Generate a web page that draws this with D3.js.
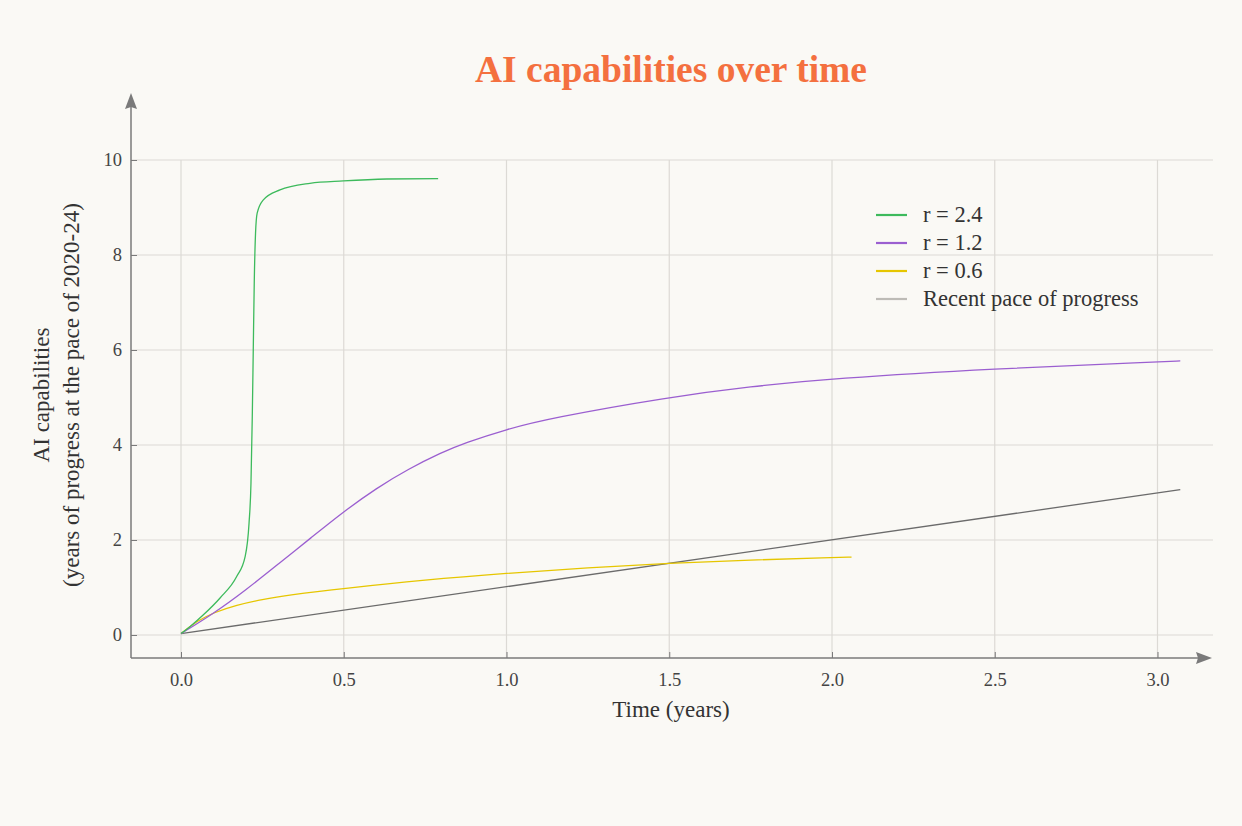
<!DOCTYPE html>
<html>
<head>
<meta charset="utf-8">
<script src="https://cdn.jsdelivr.net/npm/d3@7"></script>
<style>
  html, body { margin: 0; padding: 0; background: #faf9f5; }
  svg { display: block; font-family: "Liberation Serif", "DejaVu Serif", serif; }
</style>
</head>
<body>
<div id="chart"></div>
<script>
// AI capabilities over time

const xTicks = [0.0, 0.5, 1.0, 1.5, 2.0, 2.5, 3.0];
const yTicks = [0, 2, 4, 6, 8, 10];

// r = 2.4
const greenT = [0, 0.03, 0.068, 0.12, 0.171, 0.197, 0.209, 0.215, 0.219, 0.222, 0.225, 0.229, 0.234, 0.253, 0.304, 0.396, 0.499, 0.632, 0.79];
const greenV = [0.03, 0.19, 0.42, 0.78, 1.23, 1.65, 2.35, 3.2, 4.6, 6.0, 7.4, 8.46, 8.88, 9.16, 9.37, 9.51, 9.56, 9.6, 9.61];

// r = 1.2
const purpleT = [0, 0.1, 0.2, 0.3, 0.4, 0.5, 0.6, 0.7, 0.8, 0.87, 1.0, 1.13, 1.5, 1.75, 2.0, 2.5, 3.0, 3.07];
const purpleV = [0.03, 0.45, 0.95, 1.5, 2.05, 2.6, 3.09, 3.5, 3.84, 4.04, 4.33, 4.56, 5.01, 5.23, 5.4, 5.61, 5.75, 5.77];

// r = 0.6
const yellowT = [0, 0.05, 0.1, 0.17, 0.25, 0.33, 0.5, 0.75, 1.0, 1.25, 1.5, 1.75, 2.0, 2.06];
const yellowV = [0.03, 0.3, 0.47, 0.63, 0.75, 0.84, 0.98, 1.16, 1.3, 1.42, 1.51, 1.58, 1.63, 1.64];

// recent pace
const grayT = [0, 3.07];
const grayV = [0.03, 3.06];

const seriesNames = ['r = 2.4', 'r = 1.2', 'r = 0.6', 'Recent pace of progress'];
const lineColors = ['#3dba5c', '#9b5fd0', '#e6c600', '#6b6b6b'];
const legendColors = ['#3dba5c', '#9b5fd0', '#e6c600', '#bdbbb6'];

const W = 1242, H = 826;
const svg = d3.select('#chart').append('svg').attr('width', W).attr('height', H);

// scales: 0 -> 181px, 3 -> 1157px ; 0 -> 635px, 10 -> 160px
const x = d3.scaleLinear().domain([0, 3]).range([181, 1157.5]);
const y = d3.scaleLinear().domain([0, 10]).range([635, 160]);

const plotLeft = 131, plotRight = 1213, plotBottom = 658, plotTop = 160;
const axisColor = '#7a7a7a';
const gridColor = '#dcdad5';
const tickFont = '18.5px';

// grid
svg.append('g')
  .selectAll('line')
  .data(yTicks)
  .join('line')
  .attr('x1', plotLeft).attr('x2', plotRight)
  .attr('y1', d => y(d)).attr('y2', d => y(d))
  .attr('stroke', gridColor).attr('stroke-width', 1.2);

svg.append('g')
  .selectAll('line')
  .data(xTicks)
  .join('line')
  .attr('x1', d => x(d)).attr('x2', d => x(d))
  .attr('y1', plotTop).attr('y2', plotBottom)
  .attr('stroke', gridColor).attr('stroke-width', 1.2);

// axes
const xAxis = d3.axisBottom(x).tickValues(xTicks).tickFormat(d3.format('.1f')).tickSize(-6).tickPadding(15);
const xg = svg.append('g').attr('transform', `translate(0,${plotBottom})`).call(xAxis);
xg.select('.domain').remove();
xg.selectAll('line').attr('stroke', axisColor);
xg.selectAll('text').attr('fill', '#444').style('font-size', tickFont).style('font-family', '"Liberation Serif", serif');

const yAxis = d3.axisLeft(y).tickValues(yTicks).tickSize(-6).tickPadding(9);
const yg = svg.append('g').attr('transform', `translate(${plotLeft},0)`).call(yAxis);
yg.select('.domain').remove();
yg.selectAll('line').attr('stroke', axisColor);
yg.selectAll('text').attr('fill', '#444').style('font-size', tickFont).style('font-family', '"Liberation Serif", serif');

// axis lines with arrows
svg.append('line').attr('x1', plotLeft).attr('x2', 1200).attr('y1', plotBottom).attr('y2', plotBottom)
  .attr('stroke', axisColor).attr('stroke-width', 1.5);
svg.append('path').attr('d', `M1212,${plotBottom} L1196,${plotBottom - 6} L1198,${plotBottom} L1196,${plotBottom + 6} Z`).attr('fill', axisColor);
svg.append('line').attr('x1', plotLeft).attr('x2', plotLeft).attr('y1', plotBottom).attr('y2', 105)
  .attr('stroke', axisColor).attr('stroke-width', 1.5);
svg.append('path').attr('d', `M${plotLeft},93 L${plotLeft - 6},109 L${plotLeft},107 L${plotLeft + 6},109 Z`).attr('fill', axisColor);

// lines: steep green curve keeps monotone, smoother ones use a basis spline
const curves = [d3.curveMonotoneX, d3.curveBasis, d3.curveBasis, d3.curveLinear];
const allSeries = [
  d3.zip(greenT, greenV),
  d3.zip(purpleT, purpleV),
  d3.zip(yellowT, yellowV),
  d3.zip(grayT, grayV)
];
// draw gray first so it sits below
[3, 2, 1, 0].forEach(i => {
  const line = d3.line().x(d => x(d[0])).y(d => y(d[1])).curve(curves[i]);
  svg.append('path')
    .datum(allSeries[i])
    .attr('d', line)
    .attr('fill', 'none')
    .attr('stroke', lineColors[i])
    .attr('stroke-width', 1.3);
});

// legend
const legend = svg.append('g').attr('transform', 'translate(876,215)');
seriesNames.forEach((name, i) => {
  const g = legend.append('g').attr('transform', `translate(0,${i * 28})`);
  g.append('line').attr('x1', 0).attr('x2', 31).attr('y1', 0).attr('y2', 0)
    .attr('stroke', legendColors[i]).attr('stroke-width', 2.2);
  g.append('text').attr('x', 47).attr('y', 7)
    .attr('fill', '#333').style('font-size', '22.5px').text(name);
});

// title
svg.append('text').attr('x', 671).attr('y', 82).attr('text-anchor', 'middle')
  .attr('fill', '#f4703f').style('font-size', '37.5px').style('font-weight', 'bold')
  .text('AI capabilities over time');

// axis titles
svg.append('text').attr('x', 671).attr('y', 717).attr('text-anchor', 'middle')
  .attr('fill', '#333').style('font-size', '23px').text('Time (years)');

const yl = svg.append('text').attr('transform', 'translate(49,395) rotate(-90)')
  .attr('text-anchor', 'middle').attr('fill', '#333').style('font-size', '23px');
yl.append('tspan').attr('x', 0).attr('dy', 0).text('AI capabilities');
yl.append('tspan').attr('x', 0).attr('dy', 30).text('(years of progress at the pace of 2020-24)');
</script>
</body>
</html>
